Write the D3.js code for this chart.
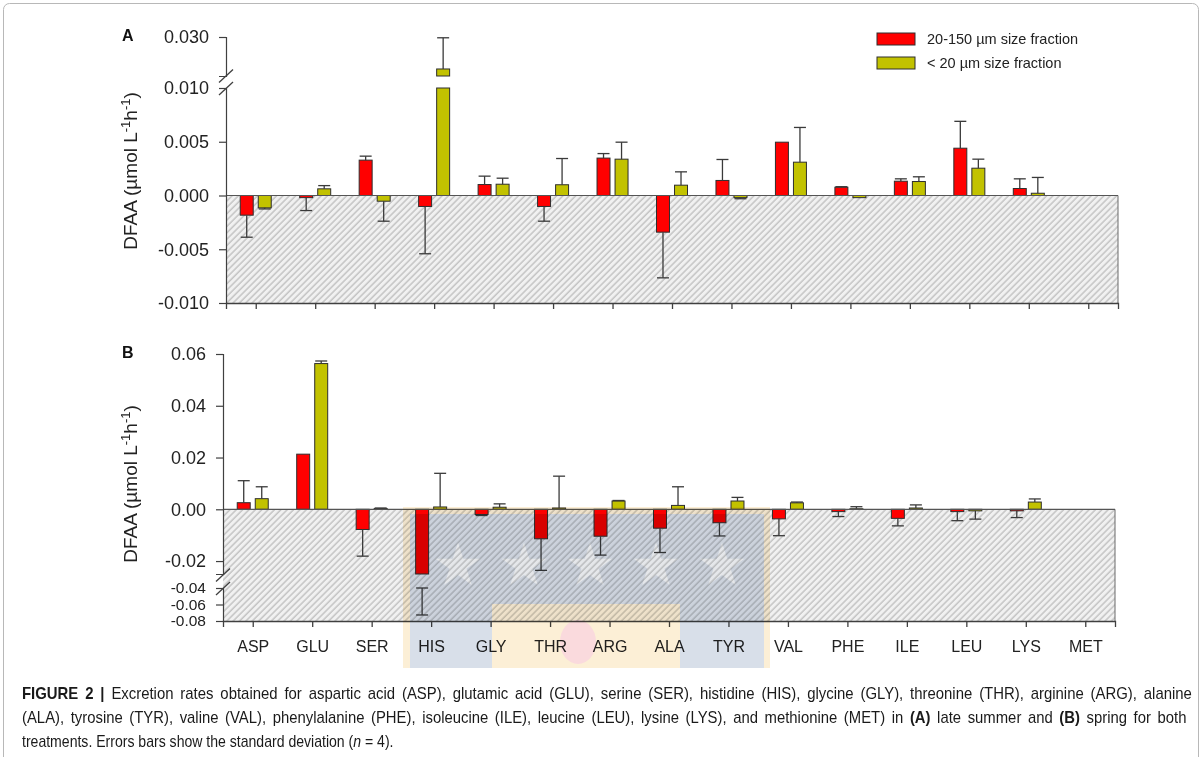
<!DOCTYPE html>
<html>
<head>
<meta charset="utf-8">
<script src="https://cdn.jsdelivr.net/npm/d3@7"></script>
<style>
body { margin: 0; background: #fff; }
svg { display: block; font-family: "Liberation Sans", Arial, sans-serif; }
</style>
</head>
<body>
<svg id="chart" width="1204" height="757"></svg>
<script>
// amino acids on the x axis
var categories = ["ASP", "GLU", "SER", "HIS", "GLY", "THR", "ARG", "ALA", "TYR", "VAL", "PHE", "ILE", "LEU", "LYS", "MET"];
var seriesNames = ["20-150 \u00b5m size fraction", "< 20 \u00b5m size fraction"];
var seriesColors = ["#ff0000", "#c2c200"];

// (A) late summer
var summerLarge   = [-0.00183, -0.0002, 0.00329, -0.00102, 0.00102, -0.00102, 0.00348, -0.00341, 0.0014, 0.00496, 0.00077, 0.00133, 0.0044, 0.00065, 0];
var summerLargeSD = [0.00205, 0.0012, 0.00037, 0.0044, 0.00078, 0.00137, 0.00042, 0.00425, 0.00195, 0, 0.00005, 0.00022, 0.0025, 0.0009, 0];
var summerSmall   = [-0.00115, 0.00062, -0.00053, 0.0177, 0.00105, 0.001, 0.00338, 0.00096, -0.0002, 0.0031, -0.0002, 0.0013, 0.00254, 0.00021, 0];
var summerSmallSD = [0.0001, 0.0003, 0.00186, 0.012, 0.00056, 0.00244, 0.00158, 0.00124, 0.0001, 0.00323, 0, 0.00044, 0.00084, 0.00147, 0];

// (B) spring
var springLarge   = [0.00255, 0.0213, -0.0078, -0.03, -0.002, -0.0114, -0.0104, -0.0073, -0.0052, -0.0037, -0.0009, -0.0035, -0.0009, -0.0006, 0];
var springLargeSD = [0.0085, 0, 0.0103, 0.0427, 0.0004, 0.0122, 0.0073, 0.0094, 0.0051, 0.0065, 0.0019, 0.0029, 0.0035, 0.0026, 0];
var springSmall   = [0.0041, 0.0563, 0.0003, 0.0009, 0.0008, 0.0005, 0.0032, 0.0015, 0.0032, 0.0025, 0.0002, 0.0005, -0.0006, 0.0028, 0];
var springSmallSD = [0.0046, 0.001, 0.0002, 0.013, 0.0013, 0.0123, 0.0002, 0.0072, 0.0014, 0.0003, 0.0008, 0.0012, 0.0032, 0.0012, 0];

// broken y axes: each piece has its own domain and tick labels
var summerPieces = [
    { domain: [-0.010, 0.010], ticks: [-0.010, -0.005, 0, 0.005, 0.010] },
    { domain: [0.015, 0.030], ticks: [0.030] }
];
var springPieces = [
    { domain: [-0.025, 0.06], ticks: [-0.02, 0, 0.02, 0.04, 0.06] },
    { domain: [-0.08, -0.04], ticks: [-0.04, -0.06, -0.08], small: true }
];

var caption = [
    [["FIGURE 2 | ", "b"], ["Excretion rates obtained for aspartic acid (ASP), glutamic acid (GLU), serine (SER), histidine (HIS), glycine (GLY), threonine (THR), arginine (ARG), alanine", ""]],
    [["(ALA), tyrosine (TYR), valine (VAL), phenylalanine (PHE), isoleucine (ILE), leucine (LEU), lysine (LYS), and methionine (MET) in ", ""], ["(A)", "b"], [" late summer and ", ""], ["(B)", "b"], [" spring for both", ""]],
    [["treatments. Errors bars show the standard deviation (", ""], ["n", "i"], [" = 4).", ""]]
];

var svg = d3.select("#chart");
var axisColor = "#404040";

// frame around the figure
svg.append("rect")
    .attr("x", 3.5).attr("y", 3.5)
    .attr("width", 1195).attr("height", 770)
    .attr("rx", 6)
    .attr("fill", "none")
    .attr("stroke", "#b8b8b8");

var defs = svg.append("defs");
var hatch = defs.append("pattern")
    .attr("id", "hatch")
    .attr("patternUnits", "userSpaceOnUse")
    .attr("width", 4.5).attr("height", 4.5)
    .attr("patternTransform", "rotate(45)");
hatch.append("rect").attr("width", 4.5).attr("height", 4.5).attr("fill", "#f1f1f1");
hatch.append("line")
    .attr("x1", 1).attr("y1", 0).attr("x2", 1).attr("y2", 4.5)
    .attr("stroke", "#b3b3b3").attr("stroke-width", 1.1);

function drawPanel(cfg) {
    var g = svg.append("g");

    var x = d3.scalePoint()
        .domain(categories)
        .range([cfg.left, cfg.right])
        .padding(0.5);

    var xs = d3.scaleBand()
        .domain([0, 1])
        .range([-15.5, 15.5])
        .paddingInner(0.28);

    cfg.pieces.forEach(function(p, i) {
        p.y = d3.scaleLinear().domain(p.domain).range(cfg.ranges[i]);
    });
    var main = cfg.pieces[0].y;
    var zeroY = main(0);
    var bottomY = d3.max(cfg.ranges, function(r) { return r[0]; });

    // hatched area below zero
    g.append("rect")
        .attr("x", cfg.left)
        .attr("y", zeroY)
        .attr("width", cfg.right - cfg.left)
        .attr("height", bottomY - zeroY)
        .attr("fill", "url(#hatch)");
    g.append("line")
        .attr("x1", cfg.right).attr("x2", cfg.right)
        .attr("y1", zeroY).attr("y2", bottomY)
        .attr("stroke", "#6a6a6a").attr("stroke-width", 1);

    var bars = [];
    categories.forEach(function(c, i) {
        bars.push({ cat: c, s: 0, v: cfg.large[i], sd: cfg.largeSD[i] });
        bars.push({ cat: c, s: 1, v: cfg.small[i], sd: cfg.smallSD[i] });
    });

    // bars, cut into the pieces of the broken axis
    cfg.pieces.forEach(function(p) {
        var d0 = p.domain[0], d1 = p.domain[1];
        var visible = bars.filter(function(d) {
            return Math.min(Math.max(0, d.v), d1) > Math.max(Math.min(0, d.v), d0);
        });
        g.append("g").selectAll("rect")
            .data(visible).enter()
            .append("rect")
            .attr("x", function(d) { return x(d.cat) + xs(d.s); })
            .attr("width", xs.bandwidth())
            .attr("y", function(d) { return p.y(Math.min(Math.max(0, d.v), d1)); })
            .attr("height", function(d) {
                return p.y(Math.max(Math.min(0, d.v), d0)) - p.y(Math.min(Math.max(0, d.v), d1));
            })
            .attr("fill", function(d) { return seriesColors[d.s]; })
            .attr("stroke", "#2e2e2e")
            .attr("stroke-width", 1);
    });

    // one sided error bars
    var capW = 12;
    var eb = g.append("g").attr("stroke", "#3a3a3a").attr("stroke-width", 1.3);
    bars.forEach(function(d) {
        if (!d.sd || !d.v) return;
        var a = d.v, b = d.v + (d.v > 0 ? d.sd : -d.sd);
        var lo = Math.min(a, b), hi = Math.max(a, b);
        var cx = x(d.cat) + xs(d.s) + xs.bandwidth() / 2;
        cfg.pieces.forEach(function(p) {
            var clo = Math.max(lo, p.domain[0]), chi = Math.min(hi, p.domain[1]);
            if (chi <= clo) return;
            eb.append("line").attr("x1", cx).attr("x2", cx)
                .attr("y1", p.y(clo)).attr("y2", p.y(chi));
            var caps = [];
            if (b >= p.domain[0] && b <= p.domain[1]) caps.push(b);
            if (a < p.domain[0] || a > p.domain[1]) caps.push(a < p.domain[0] ? p.domain[0] : p.domain[1]);
            caps.forEach(function(v) {
                eb.append("line")
                    .attr("x1", cx - capW / 2).attr("x2", cx + capW / 2)
                    .attr("y1", p.y(v)).attr("y2", p.y(v));
            });
        });
    });

    // zero line
    g.append("line")
        .attr("x1", cfg.left).attr("x2", cfg.right)
        .attr("y1", zeroY).attr("y2", zeroY)
        .attr("stroke", "#555").attr("stroke-width", 1.2);

    // y axis pieces
    cfg.pieces.forEach(function(p) {
        var ax = g.append("g")
            .attr("transform", "translate(" + cfg.left + ",0)")
            .call(d3.axisLeft(p.y)
                .tickValues(p.ticks)
                .tickFormat(function(d) { return d.toFixed(cfg.digits); })
                .tickSizeOuter(0)
                .tickSize(7)
                .tickPadding(10));
        ax.select(".domain").attr("stroke", axisColor).attr("stroke-width", 1.2);
        ax.selectAll(".tick line").attr("stroke", axisColor).attr("stroke-width", 1.2);
        ax.selectAll("text")
            .attr("fill", "#222")
            .style("font-size", p.small ? "15.5px" : "18px")
            .style("font-family", "'Liberation Sans', Arial, sans-serif");
    });

    // break marks on the axis
    cfg.breaks.forEach(function(yb) {
        g.append("line")
            .attr("x1", cfg.left - 7).attr("y1", yb + 6.5)
            .attr("x2", cfg.left + 7).attr("y2", yb - 6.5)
            .attr("stroke", axisColor).attr("stroke-width", 1.3);
    });

    // x axis
    var xa = g.append("g")
        .attr("transform", "translate(0," + bottomY + ")")
        .call(d3.axisBottom(x).tickSizeOuter(0).tickSize(6).tickPadding(14));
    xa.select(".domain").attr("stroke", axisColor).attr("stroke-width", 1.3);
    xa.selectAll(".tick line").attr("stroke", axisColor).attr("stroke-width", 1.3);
    if (cfg.showLabels) {
        xa.selectAll("text")
            .attr("fill", "#222")
            .style("font-size", "16px")
            .style("font-family", "'Liberation Sans', Arial, sans-serif");
    } else {
        xa.selectAll("text").remove();
    }

    // panel letter
    g.append("text")
        .attr("x", 122).attr("y", cfg.letterY)
        .attr("font-size", 16).attr("font-weight", "bold")
        .attr("fill", "#111")
        .text(cfg.letter);

    // y title
    var t = g.append("text")
        .attr("transform", "translate(137," + cfg.titleY + ") rotate(-90)")
        .attr("text-anchor", "middle")
        .attr("font-size", 19)
        .attr("fill", "#222");
    t.append("tspan").text("DFAA (\u00b5mol L");
    t.append("tspan").attr("dy", -7).attr("font-size", 13).text("-1");
    t.append("tspan").attr("dy", 7).text("h");
    t.append("tspan").attr("dy", -7).attr("font-size", 13).text("-1");
    t.append("tspan").attr("dy", 7).text(")");
}

drawPanel({
    left: 226, right: 1118,
    pieces: summerPieces,
    ranges: [[303, 88], [76, 37]],
    breaks: [76, 88.5],
    digits: 3,
    large: summerLarge, largeSD: summerLargeSD,
    small: summerSmall, smallSD: summerSmallSD,
    showLabels: false,
    letter: "A", letterY: 41,
    titleY: 171
});

drawPanel({
    left: 223, right: 1115,
    pieces: springPieces,
    ranges: [[574, 354], [621, 588]],
    breaks: [575, 588.5],
    digits: 2,
    large: springLarge, largeSD: springLargeSD,
    small: springSmall, smallSD: springSmallSD,
    showLabels: true,
    letter: "B", letterY: 358,
    titleY: 484
});

// legend
var legend = svg.append("g").attr("transform", "translate(877,33)");
seriesNames.forEach(function(name, i) {
    legend.append("rect")
        .attr("x", 0).attr("y", i * 24)
        .attr("width", 38).attr("height", 12)
        .attr("fill", seriesColors[i])
        .attr("stroke", "#2e2e2e");
    legend.append("text")
        .attr("x", 50).attr("y", i * 24 + 11)
        .attr("font-size", 14.5)
        .attr("fill", "#222")
        .text(name);
});

// faint watermark lying over the lower panel
var wm = svg.append("g").style("mix-blend-mode", "multiply");
wm.append("rect").attr("x", 403).attr("y", 507).attr("width", 367).attr("height", 161).attr("fill", "#fcefd6");
wm.append("rect").attr("x", 410).attr("y", 514).attr("width", 354).attr("height", 154).attr("fill", "#d8dfe9");
wm.append("rect").attr("x", 492).attr("y", 604).attr("width", 188).attr("height", 64).attr("fill", "#fcefd6");
[458, 524, 590, 656, 722].forEach(function(cx) {
    wm.append("path")
        .attr("transform", "translate(" + cx + ",566)")
        .attr("d", d3.symbol().type(d3.symbolStar).size(620)())
        .attr("fill", "#f3f5f8");
});
wm.append("ellipse").attr("cx", 578).attr("cy", 642).attr("rx", 18).attr("ry", 22).attr("fill", "#fadadd");

// caption in condensed type; the two full lines are justified
var cap = svg.append("g")
    .attr("font-family", "'Liberation Sans', Arial, sans-serif")
    .attr("font-size", 16).attr("fill", "#1a1a1a");
var capWidths = [1171, 1165, 372];
var lines = caption.map(function(parts) {
    var line = cap.append("text").attr("x", 0).attr("y", 0);
    parts.forEach(function(p) {
        line.append("tspan")
            .attr("font-weight", p[1] === "b" ? "bold" : null)
            .attr("font-style", p[1] === "i" ? "italic" : null)
            .text(p[0]);
    });
    return line;
});
var lastSqueeze = capWidths[2] / lines[2].node().getComputedTextLength();
lines.forEach(function(line, i) {
    var natural = line.node().getComputedTextLength();
    var s = lastSqueeze;
    if (i < 2) {
        s = (lastSqueeze + capWidths[i] / natural) / 2;
        var spaces = line.text().split(" ").length - 1;
        line.attr("word-spacing", (capWidths[i] / s - natural) / spaces);
    }
    line.attr("transform", "translate(22," + (699 + i * 24) + ") scale(" + s + ",1)");
});
</script>
</body>
</html>
